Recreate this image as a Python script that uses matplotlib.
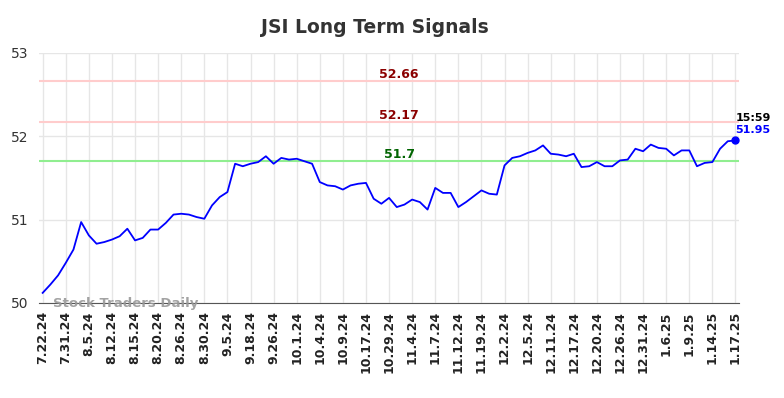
import matplotlib
matplotlib.use("Agg")
import matplotlib.pyplot as plt

# tick labels (every 3rd point)
tick_labels = ["7.22.24", "7.31.24", "8.5.24", "8.12.24", "8.15.24", "8.20.24",
               "8.26.24", "8.30.24", "9.5.24", "9.18.24", "9.26.24", "10.1.24",
               "10.4.24", "10.9.24", "10.17.24", "10.29.24", "11.4.24", "11.7.24",
               "11.12.24", "11.19.24", "12.2.24", "12.5.24", "12.11.24", "12.17.24",
               "12.20.24", "12.26.24", "12.31.24", "1.6.25", "1.9.25", "1.14.25",
               "1.17.25"]

prices = [50.12, 50.22, 50.33, 50.48, 50.64, 50.97, 50.81, 50.71, 50.73, 50.76,
          50.80, 50.89, 50.75, 50.78, 50.88, 50.88, 50.96, 51.06, 51.07, 51.06,
          51.03, 51.01, 51.17, 51.27, 51.33, 51.67, 51.64, 51.67, 51.69, 51.76,
          51.67, 51.74, 51.72, 51.73, 51.70, 51.67, 51.45, 51.41, 51.40, 51.36,
          51.41, 51.43, 51.44, 51.25, 51.19, 51.26, 51.15, 51.18, 51.24, 51.21,
          51.12, 51.38, 51.32, 51.32, 51.15, 51.21, 51.28, 51.35, 51.31, 51.30,
          51.65, 51.74, 51.76, 51.80, 51.83, 51.89, 51.79, 51.78, 51.76, 51.79,
          51.63, 51.64, 51.69, 51.64, 51.64, 51.71, 51.72, 51.85, 51.82, 51.90,
          51.86, 51.85, 51.77, 51.83, 51.83, 51.64, 51.68, 51.69, 51.85, 51.94,
          51.95]

resistance_levels = [52.66, 52.17]
support_level = 51.7
last_time = "15:59"

fig = plt.figure(figsize=(7.84, 3.98), dpi=100)
ax = fig.add_axes([0.050, 0.239, 0.893, 0.628])

x = list(range(len(prices)))
ax.plot(x, prices, color="blue", linewidth=1.3, zorder=3)
ax.plot(x[-1], prices[-1], "o", color="blue", markersize=5, zorder=4)

label_x = 46.3
for lvl in resistance_levels:
    ax.axhline(lvl, color="#ffcccc", linewidth=1.5, zorder=2)
    ax.text(label_x, lvl + 0.085, f"{lvl}", color="#8b0000", fontsize=9,
            fontweight="bold", ha="center", va="center")
ax.axhline(support_level, color="#90ee90", linewidth=1.5, zorder=2)
ax.text(label_x, support_level + 0.085, f"{support_level}", color="#006400",
        fontsize=9, fontweight="bold", ha="center", va="center")

# last value annotation
ax.text(x[-1], prices[-1] + 0.27, last_time, color="black", fontsize=8,
        fontweight="bold", ha="left", va="center")
ax.text(x[-1], prices[-1] + 0.12, f"{prices[-1]}", color="blue",
        fontsize=8, fontweight="bold", ha="left", va="center")

ax.set_xlim(-0.45, len(prices) - 1 + 0.5)
ax.set_ylim(50, 53)
ax.set_yticks([50, 51, 52, 53])
ax.set_xticks(x[::3])
ax.set_xticklabels(tick_labels, rotation=90, fontsize=9, fontweight="bold",
                   color="#222222")
ax.tick_params(axis="y", labelsize=10, colors="#333333", length=0, pad=8)
ax.tick_params(axis="x", length=0, pad=6)
ax.grid(True, color="#e6e6e6", linewidth=1)
ax.set_axisbelow(True)
for s in ["top", "right", "left"]:
    ax.spines[s].set_visible(False)
ax.spines["bottom"].set_color("#555555")

ax.text(1.3, 49.99, "Stock Traders Daily", color="#999999", fontsize=9.5,
        fontweight="bold", ha="left", va="center", alpha=0.9)

fig.suptitle("JSI Long Term Signals", x=0.478, y=0.955, fontsize=13.5,
             fontweight="bold", color="#333333")

fig.savefig("out.png", dpi=100)
